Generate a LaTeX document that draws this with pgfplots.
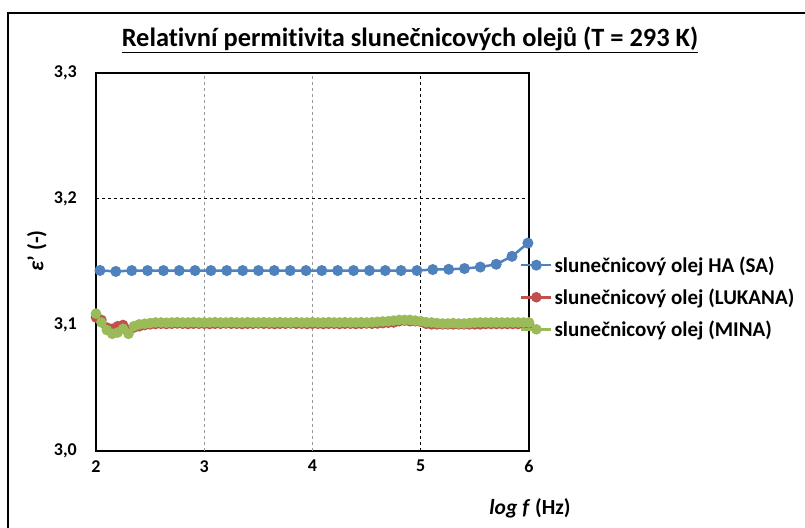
\documentclass[border=0pt]{standalone}
\usepackage{pgfplots}
\pgfplotsset{compat=1.18}
\usepackage{fontspec}
\setmainfont{Carlito}[Ligatures=NoCommon]
\definecolor{cblue}{HTML}{4F81BD}
\definecolor{cred}{HTML}{C0504D}
\definecolor{cgreen}{HTML}{9BBB59}
\begin{document}
\begin{tikzpicture}[x=1pt,y=1pt]
\useasboundingbox (0,0) rectangle (805,527);
\draw[line width=2.2pt] (8,-5) -- (8,514) -- (810,514);
\node[font=\fontsize{26.4}{30}\selectfont\bfseries] at (410,487) {\underline{Relativní permitivita slunečnicových olejů (T = 293 K)}};
\node[font=\fontsize{22}{26}\selectfont\bfseries, rotate=90] at (37,276) {\textit{ε}’ (-)};
\node[font=\fontsize{21.5}{25}\selectfont\bfseries] at (530,19) {\textit{log f} (Hz)};
\begin{axis}[
  at={(96pt,76pt)}, anchor=south west,
  scale only axis, width=433pt, height=378pt,
  xmin=2, xmax=6, ymin=3.0, ymax=3.3,
  xtick={2,3,4,5,6}, xticklabels={2,3,4,5,6},
  ytick={3.0,3.1,3.2,3.3}, yticklabels={{3,0},{3,1},{3,2},{3,3}},
  axis line style={line width=1.6pt},
  major tick length=0pt,
  tick label style={font=\fontsize{18}{20}\selectfont\bfseries},
  yticklabel style={anchor=east, inner sep=0pt, xshift=-19pt},
  xticklabel style={anchor=north, inner sep=0pt, yshift=-9pt},
  clip=false,
  legend style={draw=none, fill=none, at={(rel axis cs:0.979,0.52)}, anchor=north west,
    font=\fontsize{21}{24}\selectfont\bfseries, row sep=11pt, inner sep=0pt},
  legend cell align=left,
  legend image code/.code={\draw[#1, mark repeat=2, mark phase=2] plot coordinates {(0pt,0pt) (15pt,0pt) (30pt,0pt)};},
]
\draw[gray!80, line width=1pt, dash pattern=on 3pt off 3pt] (axis cs:3,3.0) -- (axis cs:3,3.3);
\draw[gray!80, line width=1pt, dash pattern=on 3pt off 3pt] (axis cs:4,3.0) -- (axis cs:4,3.3);
\draw[black, line width=1pt, dash pattern=on 3pt off 3pt] (axis cs:5,3.0) -- (axis cs:5,3.3);
\draw[black, line width=1pt, dash pattern=on 3pt off 3pt] (axis cs:2,3.2) -- (axis cs:6,3.2);
\addplot[color=cblue, line width=2.5pt, mark=*, mark size=4.2pt, mark options={fill=cblue, draw=cblue}] coordinates {
(2.037,3.1433) (2.183,3.1425) (2.330,3.1432) (2.476,3.1432) (2.623,3.1432) (2.769,3.1432)
(2.915,3.1432) (3.062,3.1432) (3.208,3.1432) (3.355,3.1432) (3.501,3.1432) (3.647,3.1432)
(3.794,3.1432) (3.940,3.1432) (4.086,3.1432) (4.233,3.1432) (4.379,3.1432) (4.526,3.1432)
(4.672,3.1432) (4.818,3.1432) (4.965,3.1432) (5.111,3.1440) (5.258,3.1442) (5.404,3.1448)
(5.550,3.1460) (5.697,3.1482) (5.843,3.1545) (5.990,3.1650)
};
\addlegendentry{slunečnicový olej HA (SA)}
\addplot[color=cred, line width=2.5pt, mark=*, mark size=4pt, mark options={fill=cred, draw=cred}] coordinates {
(2.00,3.106) (2.05,3.104) (2.10,3.098) (2.15,3.097) (2.20,3.099) (2.25,3.100) (2.30,3.096)
(2.35,3.098) (2.40,3.099) (2.45,3.100) (2.50,3.1005) (2.55,3.1008) (2.60,3.101) (2.65,3.1008)
(2.70,3.101) (2.75,3.1012) (2.80,3.101) (2.85,3.1008) (2.90,3.101) (2.95,3.101) (3.00,3.101)
(3.05,3.1008) (3.10,3.101) (3.15,3.101) (3.20,3.1012) (3.25,3.101) (3.30,3.101) (3.35,3.1008)
(3.40,3.101) (3.45,3.101) (3.50,3.1012) (3.55,3.101) (3.60,3.101) (3.65,3.1008) (3.70,3.101)
(3.75,3.101) (3.80,3.1012) (3.85,3.101) (3.90,3.101) (3.95,3.1008) (4.00,3.101) (4.05,3.101)
(4.10,3.1008) (4.15,3.101) (4.20,3.101) (4.25,3.1008) (4.30,3.101) (4.35,3.101) (4.40,3.1008)
(4.45,3.101) (4.50,3.1012) (4.55,3.101) (4.60,3.1012) (4.65,3.1015) (4.70,3.1018) (4.75,3.102)
(4.80,3.103) (4.85,3.1035) (4.90,3.103) (4.95,3.103) (5.00,3.1025) (5.05,3.101) (5.10,3.1005)
(5.15,3.1005) (5.20,3.1005) (5.25,3.1005) (5.30,3.1005) (5.35,3.1005) (5.40,3.1005) (5.45,3.1005)
(5.50,3.1005) (5.55,3.1005) (5.60,3.1008) (5.65,3.1008) (5.70,3.1008) (5.75,3.1008) (5.80,3.1008)
(5.85,3.1008) (5.90,3.1008) (5.95,3.1008) (6.00,3.1008)
};
\addlegendentry{slunečnicový olej (LUKANA)}
\addplot[color=cgreen, line width=2.5pt, mark=*, mark size=4pt, mark options={fill=cgreen, draw=cgreen}] coordinates {
(2.00,3.109) (2.05,3.102) (2.10,3.096) (2.15,3.093) (2.20,3.094) (2.25,3.097) (2.30,3.093)
(2.35,3.099) (2.40,3.1005) (2.45,3.101) (2.50,3.1015) (2.55,3.102) (2.60,3.102) (2.65,3.1018)
(2.70,3.102) (2.75,3.1022) (2.80,3.102) (2.85,3.102) (2.90,3.1022) (2.95,3.102) (3.00,3.102)
(3.05,3.102) (3.10,3.1022) (3.15,3.102) (3.20,3.102) (3.25,3.1022) (3.30,3.102) (3.35,3.102)
(3.40,3.1022) (3.45,3.102) (3.50,3.102) (3.55,3.1022) (3.60,3.102) (3.65,3.102) (3.70,3.1022)
(3.75,3.102) (3.80,3.102) (3.85,3.1022) (3.90,3.102) (3.95,3.102) (4.00,3.1022) (4.05,3.102)
(4.10,3.102) (4.15,3.1022) (4.20,3.102) (4.25,3.102) (4.30,3.1022) (4.35,3.102) (4.40,3.102)
(4.45,3.1022) (4.50,3.102) (4.55,3.1022) (4.60,3.1025) (4.65,3.1028) (4.70,3.103) (4.75,3.1035)
(4.80,3.104) (4.85,3.104) (4.90,3.104) (4.95,3.1035) (5.00,3.103) (5.05,3.1022) (5.10,3.102)
(5.15,3.1015) (5.20,3.1012) (5.25,3.1012) (5.30,3.1015) (5.35,3.1012) (5.40,3.1012) (5.45,3.1015)
(5.50,3.1018) (5.55,3.102) (5.60,3.102) (5.65,3.102) (5.70,3.102) (5.75,3.102) (5.80,3.102)
(5.85,3.102) (5.90,3.102) (5.95,3.102) (6.00,3.102)
};
\addlegendentry{slunečnicový olej (MINA)}
\end{axis}
\end{tikzpicture}
\end{document}
